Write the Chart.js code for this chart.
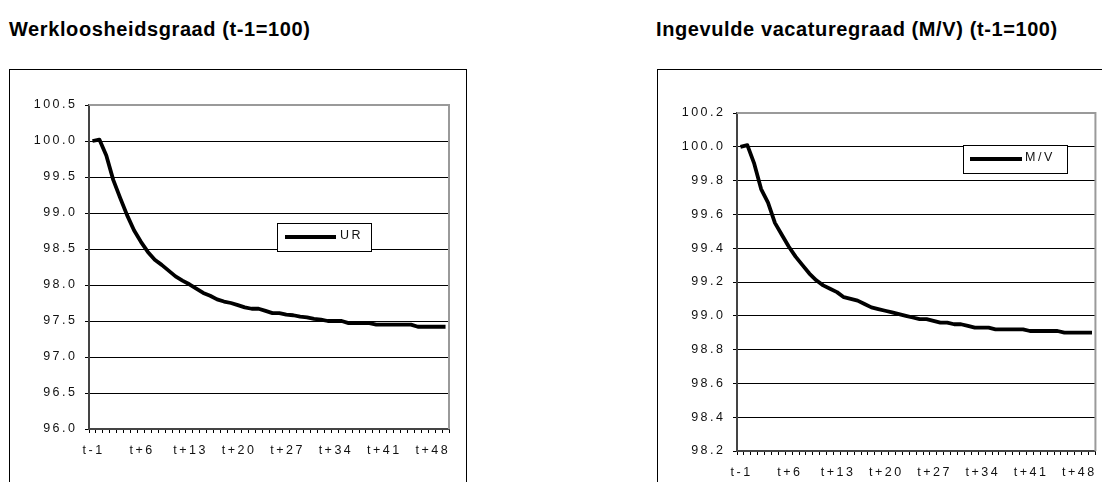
<!DOCTYPE html>
<html>
<head>
<meta charset="utf-8">
<script src="https://cdn.jsdelivr.net/npm/chart.js@4.4.0/dist/chart.umd.min.js"></script>
<style>
  html, body { margin: 0; padding: 0; background: #fff; width: 1102px; height: 482px; overflow: hidden; }
  .title { position: absolute; font: bold 20px Arial, "Liberation Sans", sans-serif; letter-spacing: 0.6px;
           line-height: 20px; white-space: nowrap; color: #000; }
  .frame { position: absolute; border: 1px solid #000; box-sizing: border-box; }
  .holder { position: absolute; top: 0; width: 551px; height: 482px; }
</style>
</head>
<body>
<div class="title" style="left:9px;top:19px">Werkloosheidsgraad (t-1=100)</div>
<div class="title" style="left:656px;top:19px">Ingevulde vacaturegraad (M/V) (t-1=100)</div>
<div class="frame" style="left:9px;top:69px;width:458px;height:440px"></div>
<div class="frame" style="left:657px;top:69px;width:500px;height:440px"></div>
<div class="holder" style="left:0"><canvas id="ur"></canvas></div>
<div class="holder" style="left:551px"><canvas id="mv"></canvas></div>
<script>
// Periods from t-1 up to t+50
const categories = [
  't-1', 't', 't+1', 't+2', 't+3', 't+4', 't+5', 't+6', 't+7', 't+8',
  't+9', 't+10', 't+11', 't+12', 't+13', 't+14', 't+15', 't+16', 't+17', 't+18',
  't+19', 't+20', 't+21', 't+22', 't+23', 't+24', 't+25', 't+26', 't+27', 't+28',
  't+29', 't+30', 't+31', 't+32', 't+33', 't+34', 't+35', 't+36', 't+37', 't+38',
  't+39', 't+40', 't+41', 't+42', 't+43', 't+44', 't+45', 't+46', 't+47', 't+48',
  't+49', 't+50'
];
// Period labels printed under the x axis
const shownLabels = ['t-1', 't+6', 't+13', 't+20', 't+27', 't+34', 't+41', 't+48'];

// Unemployment rate index (t-1 = 100)
const urValues = [
  100.00, 100.02, 99.80, 99.46, 99.21, 98.97, 98.76, 98.60, 98.46, 98.35,
  98.28, 98.20, 98.12, 98.06, 98.01, 97.95, 97.89, 97.85, 97.80, 97.77,
  97.75, 97.72, 97.69, 97.67, 97.67, 97.64, 97.61, 97.61, 97.59, 97.58,
  97.56, 97.55, 97.53, 97.52, 97.50, 97.50, 97.50, 97.47, 97.47, 97.47,
  97.47, 97.45, 97.45, 97.45, 97.45, 97.45, 97.45, 97.42, 97.42, 97.42,
  97.42, 97.42
];
// Filled vacancy rate M/V index (t-1 = 100)
const mvValues = [
  100.00, 100.01, 99.90, 99.75, 99.67, 99.55, 99.48, 99.41, 99.35, 99.30,
  99.25, 99.21, 99.18, 99.16, 99.14, 99.11, 99.10, 99.09, 99.07, 99.05,
  99.04, 99.03, 99.02, 99.01, 99.00, 98.99, 98.98, 98.98, 98.97, 98.96,
  98.96, 98.95, 98.95, 98.94, 98.93, 98.93, 98.93, 98.92, 98.92, 98.92,
  98.92, 98.92, 98.91, 98.91, 98.91, 98.91, 98.91, 98.90, 98.90, 98.90,
  98.90, 98.90
];

// Y axis tick values
const urTicks = [96.0, 96.5, 97.0, 97.5, 98.0, 98.5, 99.0, 99.5, 100.0, 100.5];
const mvTicks = [98.2, 98.4, 98.6, 98.8, 99.0, 99.2, 99.4, 99.6, 99.8, 100.0, 100.2];

const FONT = 'Arial, "Liberation Sans", sans-serif';
const FONT_SIZE = 12.5;
const SPACING = '2.5px';
Chart.defaults.font.family = FONT;
Chart.defaults.font.size = FONT_SIZE;

// Wide letter spacing, grey plot frame and an inset legend box
const sheetStyle = {
  id: 'sheetStyle',
  beforeLayout(chart) { chart.ctx.letterSpacing = SPACING; },
  beforeDraw(chart) { chart.ctx.letterSpacing = SPACING; },
  beforeDatasetsDraw(chart) {
    const { ctx, chartArea: a } = chart;
    ctx.save();
    ctx.strokeStyle = '#9a9a9a';
    ctx.lineWidth = 2;
    ctx.beginPath();
    ctx.moveTo(a.left, a.top);
    ctx.lineTo(a.right, a.top);
    ctx.lineTo(a.right, a.bottom);
    ctx.stroke();
    ctx.restore();
  },
  afterDatasetsDraw(chart, args, opts) {
    const b = opts.box;
    if (!b) return;
    const ctx = chart.ctx;
    const ds = chart.data.datasets[0];
    ctx.save();
    ctx.fillStyle = '#fff';
    ctx.fillRect(b.x, b.y, b.w, b.h);
    ctx.strokeStyle = '#000';
    ctx.lineWidth = 1;
    ctx.strokeRect(b.x + 0.5, b.y + 0.5, b.w - 1, b.h - 1);
    ctx.strokeStyle = ds.borderColor;
    ctx.lineWidth = ds.borderWidth;
    ctx.beginPath();
    ctx.moveTo(b.x1, b.ly);
    ctx.lineTo(b.x2, b.ly);
    ctx.stroke();
    ctx.fillStyle = '#111';
    ctx.font = FONT_SIZE + 'px ' + FONT;
    ctx.letterSpacing = SPACING;
    ctx.textBaseline = 'middle';
    ctx.textAlign = 'left';
    ctx.fillText(ds.label, b.tx, b.ty);
    ctx.restore();
  }
};

function buildChart(id, label, values, yTicks, cfg) {
  const top = yTicks[yTicks.length - 1];
  return new Chart(document.getElementById(id), {
    type: 'line',
    data: {
      labels: categories,
      datasets: [{
        label: label,
        data: values,
        borderColor: '#000',
        borderWidth: 3.8,
        pointRadius: 0,
        tension: 0,
        borderJoinStyle: 'round',
        fill: false
      }]
    },
    options: {
      responsive: true,
      maintainAspectRatio: false,
      animation: false,
      events: [],
      layout: { padding: { left: 0, top: cfg.top, right: cfg.right, bottom: 0 } },
      plugins: {
        legend: { display: false },
        tooltip: { enabled: false },
        sheetStyle: { box: cfg.legend }
      },
      scales: {
        x: {
          type: 'category',
          offset: true,
          grid: { offset: true, drawOnChartArea: false, tickLength: 4, color: '#000', tickColor: '#000' },
          border: { color: '#444', width: 2 },
          ticks: {
            autoSkip: false, maxRotation: 0, minRotation: 0, padding: 10, color: '#111', labelOffset: 1.2,
            callback(v, i) { const l = categories[i]; return shownLabels.includes(l) ? l : ''; }
          },
          afterFit(s) { s.height = cfg.xHeight; }
        },
        y: {
          min: yTicks[0],
          max: top,
          afterBuildTicks(s) { s.ticks = yTicks.map(v => ({ value: v })); },
          grid: {
            tickLength: 4, lineWidth: 1, tickColor: '#000',
            color: c => (c.tick && Math.abs(c.tick.value - top) < 1e-9) ? 'rgba(0,0,0,0)' : '#000'
          },
          border: { color: '#444', width: 2 },
          ticks: { padding: 7.5, color: '#111', callback: v => Number(v).toFixed(1) },
          afterFit(s) { s.width = cfg.yWidth; }
        }
      }
    },
    plugins: [sheetStyle]
  });
}

buildChart('ur', 'UR', urValues, urTicks, {
  top: 105, right: 102, yWidth: 89, xHeight: 53,
  legend: { x: 277, y: 223, w: 95, h: 29, x1: 285, x2: 336, ly: 237, tx: 340, ty: 236 }
});
buildChart('mv', 'M/V', mvValues, mvTicks, {
  top: 113, right: 2, yWidth: 186, xHeight: 31,
  legend: { x: 412, y: 145, w: 105, h: 29, x1: 419, x2: 471, ly: 159, tx: 474, ty: 158 }
});
</script>
</body>
</html>
